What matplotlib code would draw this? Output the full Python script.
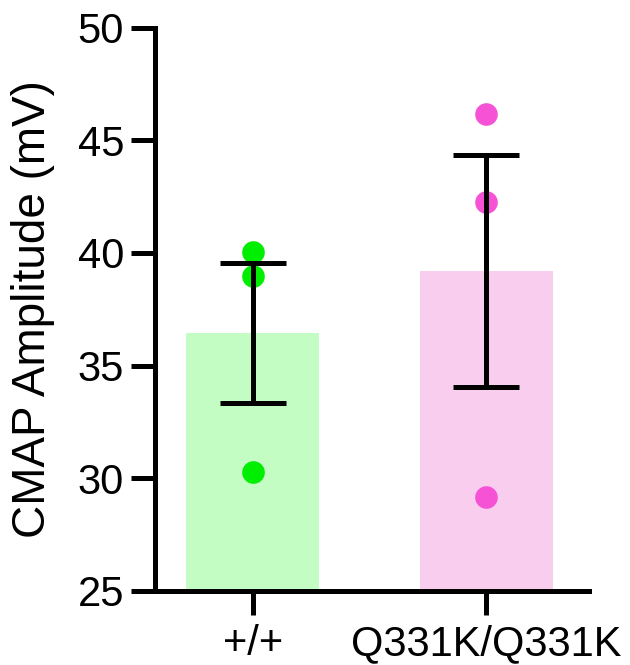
import matplotlib
matplotlib.use("Agg")
import matplotlib.pyplot as plt
import numpy as np

plt.rcParams['font.family'] = ['Liberation Sans', 'DejaVu Sans']

categories = ["+/+", "Q331K/Q331K"]
wt_values = [40.05, 38.99, 30.26]
mut_values = [46.17, 42.26, 29.15]
groups = [wt_values, mut_values]
bar_colors = ["#C3FDC3", "#F8CDEE"]
point_colors = ["#00EE00", "#F652D6"]
yticks = [25, 30, 35, 40, 45, 50]

fig = plt.figure(figsize=(6.3, 6.65), dpi=100)
ax = fig.add_axes([155/630, 1-590.7/665, (589-155)/630, (590.7-27.7)/665])

x = np.arange(len(categories))
means = [np.mean(g) for g in groups]
sems = [np.std(g, ddof=1)/np.sqrt(len(g)) for g in groups]

ax.bar(x, means, width=0.57, color=bar_colors, zorder=1)
for i, g in enumerate(groups):
    ax.scatter([x[i]]*len(g), g, s=265, color=point_colors[i], zorder=2, linewidths=0)
ax.errorbar(x, means, yerr=sems, fmt='none', ecolor='black', elinewidth=3.6,
            capsize=24, capthick=3.6, zorder=3)

ax.set_xlim(-0.419, 1.441)
ax.set_ylim(25, 50)
ax.set_yticks(yticks)
ax.set_xticks(x)
ax.set_xticklabels(categories)
for s in ['top', 'right']:
    ax.spines[s].set_visible(False)
for s in ['left', 'bottom']:
    ax.spines[s].set_linewidth(3.6)
ax.tick_params(axis='both', width=3.6, length=17.3, labelsize=30, direction='out')
ax.tick_params(axis='y', pad=5)
ax.tick_params(axis='x', pad=7)
ax.set_ylabel("CMAP Amplitude (mV)", fontsize=33, labelpad=16)

fig.savefig("out.png", dpi=100)
